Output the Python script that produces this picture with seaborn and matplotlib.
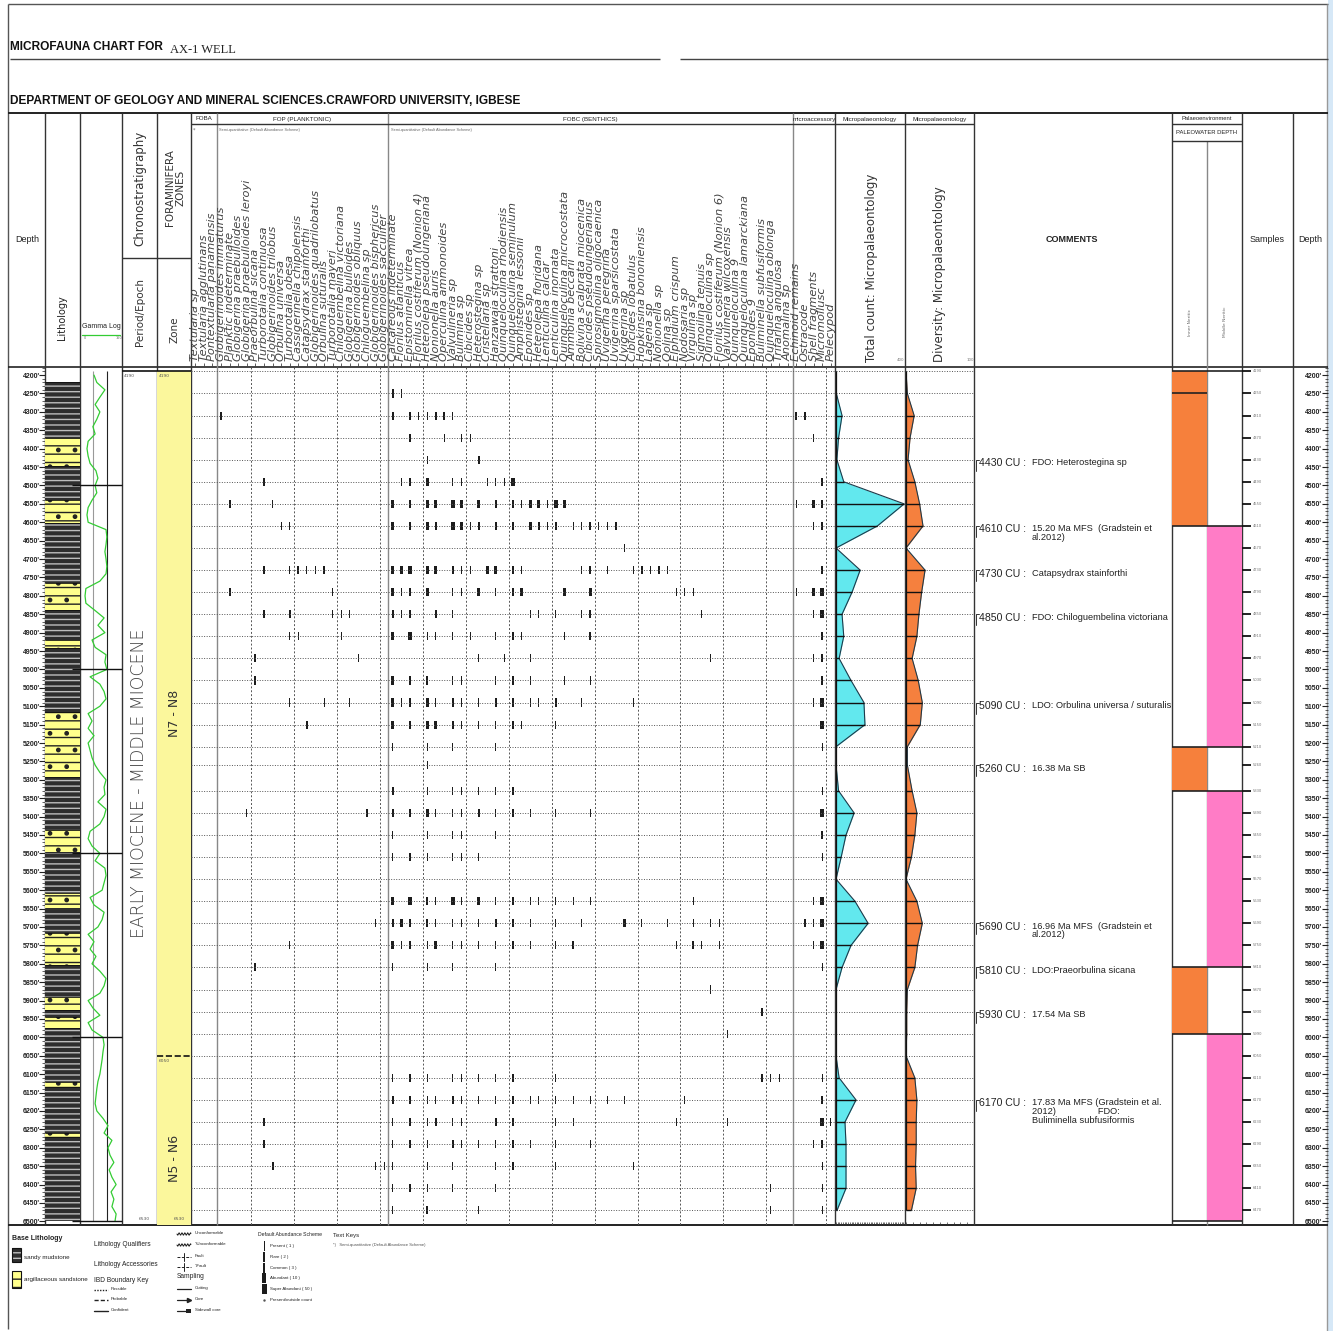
import numpy as np
import matplotlib
matplotlib.use("Agg")
import matplotlib.pyplot as plt
from matplotlib.patches import Rectangle
import seaborn as sns

sns.set_style("white")
plt.rcParams['font.family'] = ['DejaVu Sans']
NARROW = ['Liberation Sans Narrow', 'Liberation Sans', 'DejaVu Sans']

# ---------------------------------------------------------------- data
sample_depths = [4190, 4250, 4310, 4370, 4430, 4490, 4550, 4610, 4670, 4730, 4790, 4850,
                 4910, 4970, 5030, 5090, 5150, 5210, 5260, 5330, 5390, 5450, 5510, 5570,
                 5630, 5690, 5750, 5810, 5870, 5930, 5990, 6050, 6110, 6170, 6230, 6290,
                 6350, 6410, 6470]
total_count = [0, 2, 35, 15, 5, 45, 395, 240, 0, 140, 93, 35, 45, 18, 87, 162, 168, 0, 0,
               15, 105, 58, 30, 0, 110, 186, 87, 35, 0, 0, 0, 0, 18, 116, 52, 58, 58, 58, 6]
diversity = [0, 2, 12, 6, 3, 13, 20, 25, 0, 28, 23, 19, 16, 9, 18, 24, 21, 2, 2, 9, 16, 13,
             8, 0, 16, 24, 17, 13, 2, 1, 1, 0, 13, 16, 15, 15, 14, 15, 8]

foba_species = ["Textularia sp", "Textularia agglutinans", "Pontextularia panamensis"]
fop_species = ["Globigerinoides immaturus", "Planktic indeterminate", "Globigerina praebulloides",
               "Globigerina praebulloides leroyi", "Praeorbulina sicana", "Turborotalia continuosa",
               "Globigerinoides trilobus", "Orbulina universa", "Turborotalia obesa",
               "Cassigerinella chipolensis", "Catapsydrax stainforthi", "Globigerinoides quadrilobatus",
               "Orbulina suturalis", "Turborotalia mayeri", "Chiloguembelina victoriana",
               "Globigerina bulloides", "Globigerinoides obliquus", "Chiloguembelina sp",
               "Globigerinoides bisphericus", "Globigerinoides sacculifer"]
fobc_species = ["Calcareous indeterminate", "Florilus atlanticus", "Epistominella vitrea",
                "Florilus costiferum (Nonion 4)", "Heterolepa pseudoungeriana", "Nonionella auris",
                "Operculina ammonoides", "Valvulineria sp", "Bulimina sp", "Cibicides sp",
                "Heterostegina sp", "Cristellaria sp", "Hanzawaia strattoni",
                "Quinqueloculina rhodiensis", "Quinqueloculina seminulum", "Amphistegina lessonii",
                "Eponides sp", "Heterolepa floridana", "Lenticulina calcar", "Lenticulina inornata",
                "Quinqueloculina microcostata", "Ammonia beccarii", "Bolivina scalprata miocenica",
                "Cibicides pseudoungerianus", "Spirosigmoilina oligocaenica", "Uvigerina peregrina",
                "Uvigerina sparsicostata", "Uvigerina sp", "Cibicides lobatulus",
                "Hopkinsina bononiensis", "Lagena sp", "Nonionella sp", "Oolina sp",
                "Elphidium crispum", "Nodosaria sp", "Virgulina sp", "Sigmoilina tenuis",
                "Quinqueloculina sp", "Florilus costiferum (Nonion 6)", "Valvulineria wilcoxensis",
                "Quinqueloculina 9", "Quinqueloculina lamarckiana", "Eponides 9",
                "Buliminella subfusiformis", "Quinqueloculina oblonga", "Trifarina angulosa",
                "Anomalina sp"]
micro_species = ["Echinoid remains", "Ostracode", "Shell fragments", "Micromollusc", "Pelecypod"]

# occurrences: sample depth, species column index, abundance class (1..5)
occ_depth = [4250, 4310, 4370, 4430, 4490, 4550, 4610, 4670, 4730, 4790, 4850, 4910, 4970,
             5030, 5090, 5150, 5210, 5260, 5330, 5390, 5450, 5510, 5630, 5690, 5750, 5810,
             5870, 5930, 5990, 6110, 6170, 6230, 6290, 6350, 6410, 6470]
occ_species = [
    [23, 24],
    [3, 23, 25, 26, 27, 28, 29, 30, 70, 71],
    [25, 29, 31, 32, 72],
    [27, 33],
    [8, 24, 25, 27, 30, 31, 34, 35, 36, 37, 73],
    [4, 9, 23, 25, 27, 28, 30, 31, 33, 35, 37, 38, 39, 40, 41, 42, 43, 70, 72, 73],
    [10, 11, 23, 25, 27, 28, 30, 31, 32, 33, 35, 37, 39, 40, 41, 42, 44, 45, 46, 47, 48, 49, 72, 73],
    [50],
    [8, 11, 12, 13, 14, 15, 23, 24, 25, 27, 28, 30, 31, 32, 34, 35, 37, 38, 45, 46, 48, 51, 52, 53, 54, 55, 73],
    [4, 16, 23, 24, 25, 27, 30, 31, 33, 35, 37, 38, 43, 46, 56, 57, 58, 70, 72, 73],
    [8, 11, 16, 17, 18, 23, 24, 25, 28, 30, 39, 40, 42, 45, 46, 59, 72, 73],
    [11, 12, 17, 23, 25, 27, 28, 30, 32, 35, 37, 38, 43, 46, 73],
    [7, 19, 33, 36, 39, 60, 72, 73],
    [7, 23, 25, 27, 30, 31, 35, 37, 39, 43, 46, 73],
    [11, 15, 18, 23, 24, 25, 27, 28, 30, 31, 33, 35, 37, 39, 40, 42, 45, 51, 72, 73],
    [13, 23, 25, 27, 28, 30, 31, 33, 35, 37, 38, 42, 73],
    [23, 27, 30, 35, 73],
    [27],
    [23, 27, 30, 31, 33, 35, 37, 73],
    [6, 20, 23, 25, 27, 28, 30, 31, 33, 35, 37, 39, 42, 46, 73],
    [23, 27, 30, 31, 35, 73],
    [23, 25, 27, 30, 31, 33, 73],
    [23, 25, 27, 28, 30, 31, 33, 35, 37, 39, 40, 42, 44, 46, 58, 72, 73],
    [21, 23, 24, 25, 27, 28, 30, 31, 33, 35, 37, 39, 42, 45, 50, 52, 55, 58, 60, 61, 71, 72, 73],
    [11, 23, 24, 25, 27, 28, 30, 31, 33, 35, 37, 39, 42, 44, 56, 58, 59, 61, 72, 73],
    [7, 23, 27, 30, 35, 73],
    [60],
    [66],
    [62],
    [23, 25, 27, 30, 31, 33, 35, 37, 42, 66, 67, 68, 73],
    [23, 25, 27, 28, 30, 31, 33, 35, 37, 39, 40, 42, 44, 46, 48, 50, 57, 73],
    [8, 23, 25, 27, 28, 30, 31, 35, 37, 42, 44, 56, 62, 73, 74],
    [8, 23, 25, 27, 30, 31, 33, 35, 37, 39, 42, 46, 72, 73],
    [9, 21, 22, 23, 27, 30, 35, 37, 42, 51, 73],
    [23, 25, 27, 30, 35, 67, 73],
    [23, 27, 33, 67, 73],
]
occ_abund = [
    [2, 1],
    [2, 2, 1, 2, 1, 2, 2, 1, 2, 1],
    [2, 1, 1, 1, 1],
    [1, 2],
    [1, 1, 2, 3, 1, 1, 1, 1, 1, 3, 2],
    [2, 1, 3, 2, 3, 3, 3, 3, 3, 2, 1, 1, 3, 3, 1, 3, 3, 1, 3, 2],
    [1, 1, 3, 2, 3, 2, 3, 3, 1, 2, 2, 1, 3, 2, 1, 2, 1, 1, 2, 1, 1, 1, 1, 2],
    [1],
    [2, 1, 2, 1, 1, 2, 3, 3, 3, 3, 3, 2, 1, 1, 3, 3, 1, 1, 1, 2, 1, 1, 2, 1, 2, 1, 2],
    [2, 1, 3, 1, 1, 3, 1, 1, 3, 1, 1, 3, 3, 3, 1, 1, 1, 1, 3, 3],
    [1, 2, 1, 1, 1, 2, 1, 2, 2, 1, 1, 1, 1, 1, 2, 1, 1, 3],
    [1, 1, 1, 3, 3, 1, 1, 1, 1, 1, 1, 1, 1, 2, 2],
    [2, 1, 1, 1, 1, 1, 2, 2],
    [2, 3, 1, 2, 1, 1, 1, 1, 1, 1, 1, 2],
    [1, 1, 1, 3, 1, 2, 3, 1, 2, 1, 1, 2, 1, 1, 1, 2, 1, 1, 1, 3],
    [2, 3, 2, 3, 3, 2, 1, 1, 1, 2, 1, 1, 3],
    [1, 1, 1, 1, 1],
    [1],
    [2, 1, 1, 1, 1, 1, 1, 1],
    [1, 1, 2, 1, 3, 1, 1, 1, 2, 1, 1, 1, 1, 1, 3],
    [1, 1, 1, 1, 1, 2],
    [1, 1, 1, 1, 1, 1, 1],
    [3, 3, 2, 1, 3, 1, 3, 1, 1, 1, 1, 1, 1, 1, 1, 1, 3],
    [1, 2, 3, 1, 2, 1, 1, 1, 1, 2, 1, 1, 1, 1, 3, 1, 1, 1, 1, 1, 2, 2, 3],
    [1, 3, 1, 1, 1, 3, 1, 1, 1, 1, 1, 1, 1, 2, 1, 2, 1, 1, 1, 3],
    [2, 1, 1, 1, 1, 1],
    [1],
    [1],
    [1],
    [1, 1, 1, 1, 1, 1, 1, 1, 1, 1, 1, 1, 1],
    [2, 1, 1, 1, 2, 1, 1, 1, 1, 1, 1, 1, 1, 1, 1, 1, 1, 2],
    [1, 1, 1, 1, 2, 1, 1, 2, 1, 1, 1, 1, 1, 3, 1],
    [1, 1, 1, 1, 2, 1, 1, 1, 2, 1, 1, 1, 1, 2],
    [2, 1, 1, 1, 1, 1, 1, 1, 1, 1, 1],
    [1, 1, 1, 1, 1, 1, 1],
    [1, 2, 1, 1, 1],
]

lith_top = [4218, 4370, 4447, 4540, 4602, 4765, 4838, 4920, 4942, 5115, 5292, 5437, 5497,
            5608, 5648, 5716, 5803, 5890, 5925, 5944, 5974, 6120, 6136, 6260, 6270]
lith_bottom = [4370, 4447, 4540, 4602, 4765, 4838, 4920, 4942, 5115, 5292, 5437, 5497, 5608,
               5648, 5716, 5803, 5890, 5925, 5944, 5974, 6120, 6136, 6260, 6270, 6500]
lith_type = ["shale", "sand", "shale", "sand", "shale", "sand", "shale", "sand", "shale", "sand",
             "shale", "sand", "shale", "sand", "shale", "sand", "shale", "sand", "shale", "sand",
             "shale", "sand", "shale", "sand", "shale"]

gamma_depth = list(range(4200, 6501, 20))
gamma_api = [50, 60, 89, 71, 54, 71, 60, 46, 54, 29, 25, 29, 36, 57, 64, 54, 60, 43, 29, 25,
             29, 93, 96, 93, 89, 93, 96, 93, 71, 21, 18, 21, 54, 86, 64, 89, 43, 54, 93, 89,
             96, 36, 71, 86, 93, 71, 29, 43, 29, 50, 29, 36, 43, 54, 71, 93, 86, 89, 64, 93,
             86, 71, 36, 29, 43, 71, 54, 89, 93, 86, 79, 36, 50, 86, 79, 64, 29, 50, 36, 57,
             43, 71, 93, 86, 71, 29, 46, 71, 29, 43, 82, 86, 82, 79, 75, 71, 64, 60, 57, 54,
             60, 82, 100, 86, 114, 100, 107, 121, 104, 114, 129, 111, 121, 114, 129, 125]

env_top = [4190, 4610, 5210, 5330, 5810, 5990]
env_bottom = [4610, 5210, 5330, 5810, 5990, 6500]
env_class = [0, 1, 0, 1, 0, 1]          # 0 = Inner Neritic, 1 = Middle Neritic
env_names = ["Inner Neritic", "Middle Neritic"]

comment_depths = [4430, 4610, 4730, 4850, 5090, 5260, 5690, 5810, 5930, 6170]
comment_texts = ["FDO: Heterostegina sp",
                 "15.20 Ma MFS  (Gradstein et\nal.2012)",
                 "Catapsydrax stainforthi",
                 "FDO: Chiloguembelina victoriana",
                 "LDO: Orbulina universa / suturalis",
                 "16.38 Ma SB",
                 "16.96 Ma MFS  (Gradstein et\nal.2012)",
                 "LDO:Praeorbulina sicana",
                 "17.54 Ma SB",
                 "17.83 Ma MFS (Gradstein et al.\n2012)                FDO:\nBuliminella subfusiformis"]

chrono_top, chrono_bottom = 4190, 6530
zone_names = ["N7 - N8", "N5 - N6"]
zone_top = [4190, 6050]
zone_bottom = [6050, 6530]
epoch_name = "EARLY MIOCENE - MIDDLE MIOCENE"

abund_labels = ["Present ( 1 )", "Rare ( 2 )", "Common ( 3 )", "Abundant ( 10 )",
                "Super Abundant ( 50 )", "Present/outside count"]

# ---------------------------------------------------------------- layout helpers
W, H = 1333, 1331
fig = plt.figure(figsize=(W / 100, H / 100), dpi=100)
D0, D1 = 4178, 6510
Y0, Y1 = 367, 1225

bg = fig.add_axes([0, 0, 1, 1], zorder=-5)
bg.set_xlim(0, W)
bg.set_ylim(H, 0)
bg.axis("off")


def track(x0, x1, y0=Y0, y1=Y1):
    a = fig.add_axes([x0 / W, 1 - y1 / H, (x1 - x0) / W, (y1 - y0) / H])
    a.set_facecolor("none")
    for s in a.spines.values():
        s.set_visible(False)
    a.set_ylim(D1, D0)
    a.set_xticks([])
    a.set_yticks([])
    return a


def hl(y, x0, x1, **kw):
    kw.setdefault("color", "#333")
    kw.setdefault("lw", 1)
    bg.plot([x0, x1], [y, y], solid_capstyle="butt", **kw)


def vl(x, y0, y1, **kw):
    kw.setdefault("color", "#444")
    kw.setdefault("lw", 1)
    bg.plot([x, x], [y0, y1], solid_capstyle="butt", **kw)


# ---------------------------------------------------------------- frame & titles
bg.add_patch(Rectangle((1328, 0), 5, H, color="#d6e8f7", lw=0))
hl(4, 8, 1328, color="#555")
vl(8, 4, 1329, color="#555")
vl(1327, 4, 1331, color="#999")
bg.text(10, 47, "MICROFAUNA CHART FOR", fontsize=8.6, fontweight="bold", family=NARROW,
        va="center", ha="left", color="#111")
bg.text(170, 50, "AX-1 WELL", fontsize=9, family=["Liberation Serif", "DejaVu Serif"],
        va="center", ha="left", color="#222")
hl(59, 10, 660, color="#444")
hl(59, 680, 1328, color="#444")
bg.text(10, 101, "DEPARTMENT OF GEOLOGY AND MINERAL SCIENCES.CRAWFORD UNIVERSITY, IGBESE",
        fontsize=8.6, fontweight="bold", family=NARROW, va="center", ha="left", color="#111")

# header grid
hl(113, 8, 1328, color="#222", lw=1.4)
hl(Y0, 8, 1328, color="#222", lw=1.2)
hl(Y1, 8, 1328, color="#222", lw=1.4)
for x in [45, 80, 122, 157, 191, 835, 905, 974, 1172, 1242, 1293]:
    vl(x, 113, Y1, color="#333")
for x in [217, 388, 793]:
    vl(x, 113, Y1, color="#888")
vl(1207, 141, Y1, color="#888")
hl(124, 191, 974, color="#333")
hl(258, 122, 191, color="#333")
hl(124, 1172, 1242, color="#333")
hl(141, 1172, 1242, color="#333")

small = dict(family=NARROW, ha="center", va="center", color="#222")
bg.text(204, 119, "FOBA", fontsize=4.5, **small)
bg.text(302, 119, "FOP (PLANKTONIC)", fontsize=4.5, **small)
bg.text(590, 119, "FOBC (BENTHICS)", fontsize=4.5, **small)
bg.text(814, 119, "microaccessory", fontsize=4.5, **small)
bg.text(870, 119, "Micropalaeontology", fontsize=4.5, **small)
bg.text(940, 119, "Micropalaeontology", fontsize=4.5, **small)
bg.text(1207, 119, "Palaeoenvironment", fontsize=4.2, **small)
bg.text(1207, 133, "PALEOWATER DEPTH", fontsize=4.2, **small)
bg.text(193, 130, "*", fontsize=3.5, color="#666", va="center")
for xx in (219, 391):
    bg.text(xx, 130, "Semi-quantitative (Default Abundance Scheme)", fontsize=2.8,
            family=NARROW, color="#666", va="center")
bg.text(27, 240, "Depth", fontsize=6.5, **small)
bg.text(1072, 240, "COMMENTS", fontsize=6.5, fontweight="bold", **small)
bg.text(1267, 240, "Samples", fontsize=6.5, **small)
bg.text(1310, 240, "Depth", fontsize=6.5, **small)
bg.text(62, 318, "Lithology", fontsize=7, rotation=90, ha="center", va="center", color="#222")
bg.text(101, 327, "Gamma Log", fontsize=5, **small)
bg.plot([82, 120], [335, 335], color="#33cc33", lw=0.9)
bg.text(84, 338, "0", fontsize=2.5, color="#666", va="center")
bg.text(116, 338, "150", fontsize=2.5, color="#666", va="center")
bg.text(140, 188, "Chronostratigraphy", fontsize=8.5, rotation=90, ha="center", va="center",
        color="#333")
bg.text(175, 188, "FORAMINIFERA\nZONES", fontsize=7.5, rotation=90, ha="center", va="center",
        color="#333", linespacing=1.05)
bg.text(140, 312, "Period/Epoch", fontsize=7.5, rotation=90, ha="center", va="center",
        color="#333")
bg.text(175, 330, "Zone", fontsize=7.5, rotation=90, ha="center", va="center", color="#333")
bg.text(872, 362, "Total count: Micropalaeontology", fontsize=8.5, rotation=90, ha="center",
        va="bottom", color="#333")
bg.text(940, 362, "Diversity: Micropalaeontology", fontsize=8.5, rotation=90, ha="center",
        va="bottom", color="#333")
bg.text(901, 362, "400", fontsize=2.8, color="#777", ha="center", va="bottom")
bg.text(970, 362, "100", fontsize=2.8, color="#777", ha="center", va="bottom")
bg.text(1190, 322, env_names[0], fontsize=3.2, rotation=90, ha="center", va="center",
        color="#666")
bg.text(1225, 322, env_names[1], fontsize=3.2, rotation=90, ha="center", va="center",
        color="#666")

# ---------------------------------------------------------------- depth tracks
depth_ticks = list(range(4200, 6501, 50))
for x0, x1, pad in [(8, 45, -23), (1293, 1328, -21)]:
    a = track(x0, x1)
    a.set_yticks(depth_ticks)
    a.set_yticklabels([f"{d}'" for d in depth_ticks], fontsize=5, fontweight="bold",
                      family=NARROW, color="#222")
    a.set_yticks(list(range(4180, 6510, 10)), minor=True)
    a.tick_params(axis="y", which="both", left=False, right=True, labelleft=True,
                  labelright=False, direction="in", pad=pad, color="#222")
    a.tick_params(axis="y", which="major", length=4, width=0.8)
    a.tick_params(axis="y", which="minor", length=2, width=0.5)

# ---------------------------------------------------------------- lithology
ax_l = track(45, 80)
ax_l.set_xlim(0, 1)
for t, b, kind in zip(lith_top, lith_bottom, lith_type):
    if kind == "shale":
        ax_l.add_patch(Rectangle((0, t), 1, b - t, facecolor="#2e2e2e", edgecolor="#bdbdbd",
                                 hatch="---", lw=0))
    else:
        ax_l.add_patch(Rectangle((0, t), 1, b - t, facecolor="#ffff8c", edgecolor="#222",
                                 hatch="--.", lw=0))
    ax_l.plot([0, 1], [t, t], color="#111", lw=0.6)

# ---------------------------------------------------------------- gamma log
ax_g = track(80, 122)
ax_g.set_xlim(0, 150)
ax_g.vlines([46], 4190, 6500, color="#999", lw=0.8)
ax_g.vlines([96], 4190, 6500, color="#222", lw=0.8)
sns.lineplot(x=gamma_api, y=gamma_depth, orient="y", estimator=None, sort=False,
             color="#33cc33", lw=0.9, ax=ax_g)
ax_g.hlines([4500, 5000, 5500, 6000, 6500], -30, 150, color="#111", lw=1.0, clip_on=False)
ax_g.set_xlim(0, 150)
ax_g.set_ylim(D1, D0)
ax_g.set_xlabel("")
ax_g.set_ylabel("")

# ---------------------------------------------------------------- chronostratigraphy
ax_p = track(122, 157)
ax_p.set_xlim(0, 1)
ax_p.hlines([chrono_top], 0, 1, color="#111", lw=1.2)
ax_p.text(0.06, chrono_top + 8, str(chrono_top), fontsize=3.2, color="#555", va="top")
ax_p.text(0.65, chrono_bottom - 30, str(chrono_bottom), fontsize=3.2, color="#555",
          va="bottom", ha="center")
ax_p.text(0.5, 5310, epoch_name, rotation=90, fontsize=12.5, ha="center", va="center",
          color="#444", fontweight="light")

ax_z = track(157, 191)
ax_z.set_xlim(0, 1)
for t, b, nm in zip(zone_top, zone_bottom, zone_names):
    ax_z.add_patch(Rectangle((0, t), 1, b - t, facecolor="#fbf79c", lw=0))
    ax_z.text(0.5, (t + b) / 2 + (0 if nm.startswith("N7") else 40), nm, rotation=90,
              fontsize=9, ha="center", va="center", color="#333")
ax_z.hlines([zone_top[0]], 0, 1, color="#111", lw=1.2)
ax_z.hlines([zone_top[1]], 0, 1, color="#111", lw=1.2, linestyles="--")
ax_z.text(0.06, zone_top[0] + 8, str(zone_top[0]), fontsize=3.2, color="#555", va="top")
ax_z.text(0.06, zone_top[1] + 8, str(zone_top[1]), fontsize=3.2, color="#555", va="top")
ax_z.text(0.65, chrono_bottom - 30, str(chrono_bottom), fontsize=3.2, color="#555",
          va="bottom", ha="center")

# ---------------------------------------------------------------- fauna occurrences
species = foba_species + fop_species + fobc_species + micro_species
n_sp = len(species)
ax_f = track(191, 835)
ax_f.set_xlim(-0.5, n_sp - 0.5)
ax_f.hlines(sample_depths, -0.5, n_sp - 0.5, color="#555", lw=0.7, linestyles=(0, (1, 1.6)))
starts = [len(foba_species), len(foba_species) + len(fop_species),
          len(foba_species) + len(fop_species) + len(fobc_species), n_sp]
grid_x = []
for s0, s1 in zip(starts[:-1], starts[1:]):
    grid_x += list(np.arange(s0 + 3.5, s1 - 0.5, 5))
ax_f.vlines(grid_x, D0, D1, color="#555", lw=0.7, linestyles=(0, (2, 2)))
bar_w = {1: 0.13, 2: 0.22, 3: 0.38, 4: 0.55, 5: 0.75}
for d, cols, abs_ in zip(occ_depth, occ_species, occ_abund):
    ax_f.bar(cols, [22] * len(cols), bottom=[d - 11] * len(cols),
             width=[bar_w[a] for a in abs_], color="#1c1c1c", lw=0)
ax_f.set_xticks(range(n_sp))
ax_f.set_xticklabels(species, rotation=90, fontsize=8.2, style="italic", color="#444")
ax_f.tick_params(axis="x", top=True, bottom=False, labeltop=True, labelbottom=False,
                 length=3, width=0.6, direction="out", pad=1.5, color="#444")
ax_f.set_ylim(D1, D0)

# ---------------------------------------------------------------- total count & diversity
for x0, x1, vals, xmax, col in [(836, 905, total_count, 400, "#62e8ee"),
                               (906, 974, diversity, 100, "#f5803e")]:
    a = track(x0, x1)
    a.set_xlim(0, xmax)
    a.hlines(sample_depths, 0, xmax, color="#555", lw=0.7, linestyles=(0, (1, 1.6)))
    a.fill_betweenx(sample_depths, 0, vals, color=col, lw=0)
    sns.lineplot(x=vals, y=sample_depths, orient="y", estimator=None, sort=False,
                 color="#1e3a4a", lw=0.8, ax=a)
    a.hlines(sample_depths, 0, vals, color="#111", lw=1.0)
    a.vlines([0], sample_depths[0], sample_depths[-1], color="#111", lw=0.9)
    a.set_xlim(0, xmax)
    a.set_ylim(D1, D0)
    a.set_xlabel("")
    a.set_ylabel("")
    a.set_xticks(np.arange(0, xmax + 1, xmax / (40 if xmax == 400 else 10)), minor=True)
    a.tick_params(axis="x", which="minor", bottom=True, length=2.5, width=0.5,
                  direction="in", color="#333")

# ---------------------------------------------------------------- comments
ax_c = track(974, 1172)
ax_c.set_xlim(0, 198)
for d, txt in zip(comment_depths, comment_texts):
    ax_c.plot([5, 2, 2], [d, d, d + 30], color="#333", lw=0.7)
    ax_c.text(5, d - 4, f"{d} CU :", fontsize=7.6, family=NARROW, va="top", ha="left",
              color="#222")
    ax_c.text(58, d - 4, txt, fontsize=6.7, family=NARROW, va="top", ha="left", color="#222",
              linespacing=0.95)

# ---------------------------------------------------------------- palaeoenvironment
ax_e = track(1172, 1242)
ax_e.set_xlim(0, 2)
env_colors = ["#f6803c", "#ff7cc6"]
for t, b, c in zip(env_top, env_bottom, env_class):
    ax_e.bar(c + 0.5, b - t, bottom=t, width=1, color=env_colors[c], lw=0)
ax_e.hlines(env_top + [env_bottom[-1]], 0, 2, color="#222", lw=1.2)
ax_e.hlines([4250], 0, 1, color="#222", lw=1.2)

# ---------------------------------------------------------------- samples
ax_s = track(1242, 1293)
ax_s.set_xlim(0, 51)
ax_s.hlines(sample_depths, 0, 9, color="#111", lw=1.3)
for d in sample_depths:
    ax_s.text(11, d, str(d), fontsize=2.6, color="#777", va="center", ha="left")

# ---------------------------------------------------------------- legend
lg = dict(family=NARROW, color="#222", va="center", ha="left")
bg.text(12, 1238, "Base Lithology", fontsize=5, fontweight="bold", **lg)
bg.add_patch(Rectangle((12, 1248), 9, 14, facecolor="#2e2e2e", edgecolor="#bdbdbd",
                       hatch="---", lw=0))
bg.add_patch(Rectangle((12, 1248), 9, 14, fill=False, edgecolor="#111", lw=0.8))
bg.text(24, 1257, "sandy mudstone", fontsize=4.5, **lg)
bg.add_patch(Rectangle((12, 1271), 9, 17, facecolor="#ffff8c", edgecolor="#222",
                       hatch="--.", lw=0))
bg.add_patch(Rectangle((12, 1271), 9, 17, fill=False, edgecolor="#111", lw=0.8))
bg.text(24, 1280, "argillaceous sandstone", fontsize=4.5, **lg)
bg.text(94, 1244, "Lithology Qualifiers", fontsize=4.8, **lg)
bg.text(94, 1264, "Lithology Accessories", fontsize=4.8, **lg)
bg.text(94, 1280, "IBD Boundary Key", fontsize=4.8, **lg)
for yy, ls, lab in [(1290, (0, (1, 1)), "Possible"), (1300, (0, (3, 1.5)), "Probable"),
                    (1311, "-", "Confident")]:
    bg.plot([94, 108], [yy, yy], color="#222", lw=1, linestyle=ls)
    bg.text(111, yy - 1, lab, fontsize=3.2, **lg)
xs = np.linspace(177, 191, 30)
for yy, lab in [(1234, "Unconformable"), (1245, "?Unconformable")]:
    bg.plot(xs, yy + 1.2 * np.sin((xs - 177) * 2.2), color="#222", lw=0.7)
    bg.text(195, yy - 1, lab, fontsize=3.2, **lg)
for yy, lab in [(1257, "Fault"), (1267, "?Fault")]:
    bg.plot([177, 191], [yy, yy], color="#222", lw=0.7, linestyle=(0, (3, 1.5)))
    bg.plot([184, 184], [yy - 4, yy + 4], color="#222", lw=0.7)
    bg.text(195, yy - 1, lab, fontsize=3.2, **lg)
bg.text(177, 1277, "Sampling", fontsize=4.8, **lg)
bg.plot([177, 191], [1289, 1289], color="#222", lw=0.9)
bg.text(195, 1288, "Cutting", fontsize=3.2, **lg)
bg.plot([177, 189], [1300, 1300], color="#222", lw=0.9)
bg.plot([189], [1300], marker=">", color="#222", ms=3)
bg.text(195, 1299, "Core", fontsize=3.2, **lg)
bg.plot([177, 188], [1311, 1311], color="#222", lw=0.9)
bg.add_patch(Rectangle((186, 1309), 5, 4, color="#222", lw=0))
bg.text(195, 1310, "Sidewall core", fontsize=3.2, **lg)
bg.text(258, 1235, "Default Abundance Scheme", fontsize=3.7, **lg)
for i, lab in enumerate(abund_labels):
    yy = 1246 + i * 10.8
    if i < 5:
        w = [1, 1.5, 2.5, 3.5, 5][i]
        bg.add_patch(Rectangle((264 - w / 2, yy - 5), w, 10, color="#1c1c1c", lw=0))
    else:
        bg.plot([264], [yy], marker=".", ms=1.5, color="#555")
    bg.text(270, yy, lab, fontsize=3.2, **lg)
bg.text(333, 1235, "Text Keys", fontsize=4.3, **lg)
bg.text(333, 1245, "*)   Semi-quantitative (Default Abundance Scheme)", fontsize=3,
        family=NARROW, color="#555", va="center", ha="left")

fig.savefig("out.png", dpi=100)
